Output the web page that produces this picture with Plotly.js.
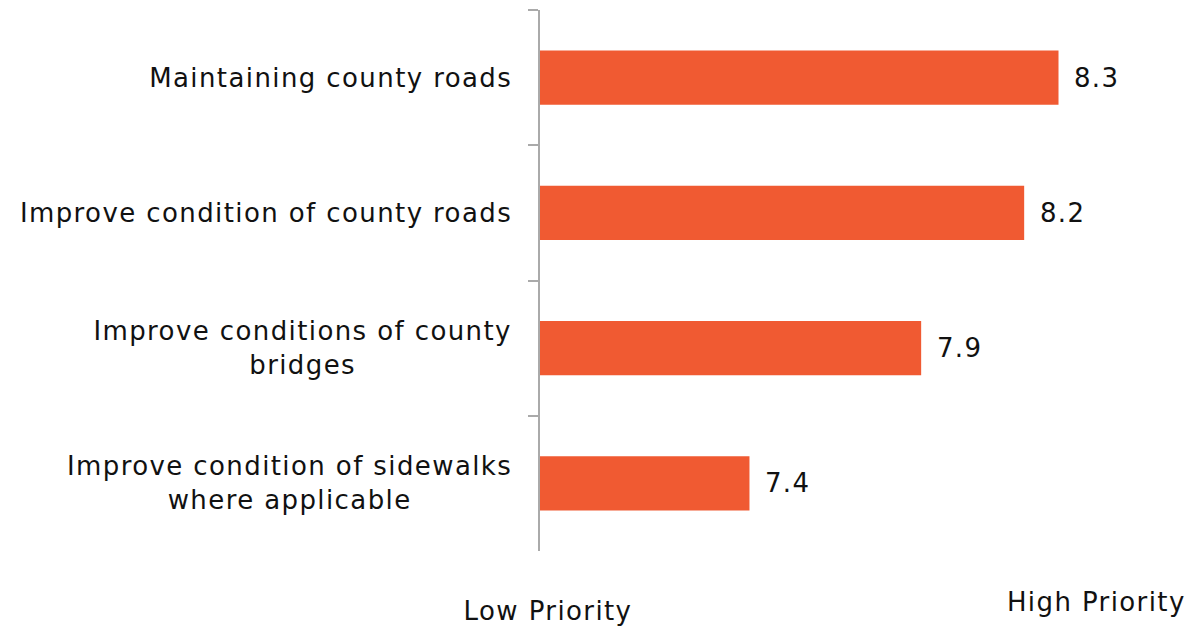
<!DOCTYPE html>
<html>
<head>
<meta charset="utf-8">
<script src="https://cdn.plot.ly/plotly-3.0.1.min.js"></script>
<style>
html,body{margin:0;padding:0;background:#fff;}
#chart{width:1199px;height:627px;}
#chart .annotation-text{letter-spacing:1.4px;}
</style>
</head>
<body>
<div id="chart"></div>
<script>
const categories = [
  "Maintaining county roads",
  "Improve condition of county roads",
  "Improve conditions of county<br>bridges",
  "Improve condition of sidewalks<br>where applicable"
];
const values = [8.3, 8.2, 7.9, 7.4];
const valueLabels = ["8.3", "8.2", "7.9", "7.4"];
const endLabels = ["Low Priority", "High Priority"];

const FONT = "DejaVu Sans, sans-serif";
const FS = 26;
const LS = 1.4;
const catIds = categories.map((c, i) => "c" + i);

const trace = {
  type: "bar",
  orientation: "h",
  y: catIds,
  x: values,
  marker: {color: "#F05A32", line: {width: 0}},
  width: 0.4,
  hoverinfo: "skip",
  cliponaxis: true
};

function spacingShift(t) {
  const n = Math.max(...t.split("<br>").map(s => s.length));
  return LS * (n - 1) / 2;
}

const annotations = [];
categories.forEach((c, i) => {
  annotations.push({
    xref: "paper", yref: "y", x: 0, y: catIds[i],
    xanchor: "right", yanchor: "middle", xshift: -27 - spacingShift(c),
    text: c, showarrow: false, align: "center",
    font: {family: FONT, size: FS, color: "#111"}
  });
  annotations.push({
    xref: "x", yref: "y", x: values[i], y: catIds[i],
    xanchor: "left", yanchor: "middle", xshift: 14 + spacingShift(valueLabels[i]),
    text: valueLabels[i], showarrow: false,
    font: {family: FONT, size: FS, color: "#111"}
  });
});
annotations.push({
  xref: "paper", yref: "paper", x: 0.012, y: 0, yshift: -60, xanchor: "center", yanchor: "middle",
  text: endLabels[0], showarrow: false, font: {family: FONT, size: FS, color: "#111"}
});
annotations.push({
  xref: "paper", yref: "paper", x: 0.857, y: 0, yshift: -51, xanchor: "center", yanchor: "middle",
  text: endLabels[1], showarrow: false, font: {family: FONT, size: FS, color: "#111"}
});

const layout = {
  width: 1199, height: 627,
  margin: {l: 540, r: 10, t: 10, b: 76},
  paper_bgcolor: "#fff", plot_bgcolor: "#fff",
  showlegend: false,
  xaxis: {range: [6.79, 8.68], visible: false, fixedrange: true},
  yaxis: {
    type: "category", autorange: "reversed",
    showticklabels: false,
    showline: true, linecolor: "#aaaaaa", linewidth: 2,
    ticks: "outside", tickson: "boundaries", ticklen: 10, tickwidth: 2, tickcolor: "#aaaaaa",
    showgrid: false, zeroline: false
  },
  annotations: annotations
};

Plotly.newPlot("chart", [trace], layout, {displayModeBar: false, staticPlot: true});
</script>
</body>
</html>
